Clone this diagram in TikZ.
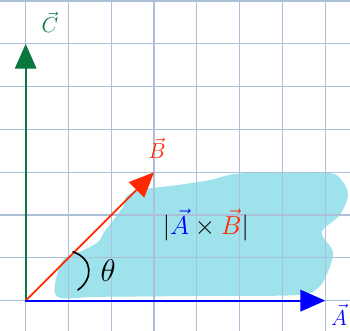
\documentclass[tikz,border=0pt]{standalone}
\usetikzlibrary{arrows.meta}
\definecolor{gridblue}{RGB}{172,192,220}
\definecolor{blobcyan}{RGB}{158,227,236}
\definecolor{vecgreen}{RGB}{10,120,62}
\definecolor{vecred}{RGB}{255,40,0}
\definecolor{vecblue}{RGB}{0,0,255}
\begin{document}
\begin{tikzpicture}[x=1cm,y=1cm,>={Triangle[length=5.8mm,width=5mm]},line cap=round,line join=round]
\useasboundingbox (-0.6,-0.708) rectangle (7.578,7.025);
\coordinate (O) at (0,0);
\coordinate (A) at (7,0);
\coordinate (B) at (3,3);
\coordinate (C) at (0,6);
\fill[blobcyan] plot[smooth cycle,tension=0.55] coordinates {(0.755,0.086) (0.73,0.60) (0.92,1.0) (1.27,1.14) (1.69,1.37) (1.83,1.60) (2.02,1.84) (2.30,2.24) (2.34,2.42) (2.67,2.59) (3.54,2.70) (4.31,2.82) (4.89,2.96) (5.94,3.01) (7.11,2.98) (7.39,2.80) (7.53,2.47) (7.34,2.0) (6.92,1.60) (7.18,1.14) (7.06,0.67) (6.83,0.30) (6.34,0.13) (4.07,0.11) (1.74,0.09)};
\draw[gridblue,line width=0.8pt] (-0.6,-0.708) grid (7.578,7.025);
\draw[->,vecgreen,line width=1.4pt] (O) -- (C);
\draw[->,vecred,line width=1.2pt] (O) -- (B);
\draw[->,vecblue,line width=1.5pt] (O) -- (A);
\draw[line width=1.1pt] (1.106,1.14) .. controls (1.58,0.98) and (1.58,0.5) .. (1.22,0.25);
\node[vecgreen,font=\fontsize{14}{16}\selectfont] (labC) at (0.57,6.51) {$\vec{C}$};
\node[vecred,font=\fontsize{14}{16}\selectfont] (labB) at (3.07,3.56) {$\vec{B}$};
\node[vecblue,font=\fontsize{14}{16}\selectfont] (labA) at (7.32,-0.33) {$\vec{A}$};
\node[font=\fontsize{22}{26}\selectfont] (theta) at (1.93,0.71) {$\theta$};
\node[font=\fontsize{19}{23}\selectfont] (cross) at (4.21,1.77) {$|\textcolor{vecblue}{\vec{A}}\times\textcolor{vecred}{\vec{B}}|$};
\end{tikzpicture}
\end{document}
